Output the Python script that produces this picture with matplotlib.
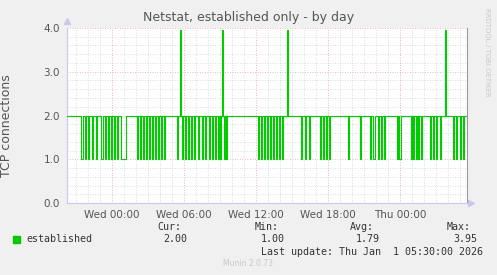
import numpy as np
import matplotlib
matplotlib.use("Agg")
import matplotlib.pyplot as plt

# samples every 5 minutes, time in minutes relative to Wed 00:00
t_start = -225
t_end = 1775
step = 5
base_value = 2.0

# dips to 1.0: (start minute, number of samples)
dips = [(-155, 2), (-135, 1), (-120, 1), (-100, 1), (-80, 1), (-55, 2), (-35, 1),
        (-20, 1), (-5, 1), (10, 1), (25, 1), (45, 5),
        (125, 1), (140, 1), (155, 1), (170, 1), (185, 1), (200, 1), (215, 1),
        (230, 1), (245, 1), (260, 1),
        (325, 1), (350, 1), (365, 1), (380, 1), (395, 1), (410, 1), (430, 1),
        (450, 1), (465, 1), (485, 1), (500, 1), (515, 1), (530, 1), (540, 1),
        (560, 1), (570, 1),
        (730, 1), (745, 1), (760, 1), (775, 1), (790, 1), (805, 1), (820, 1),
        (835, 1), (850, 1),
        (945, 1), (965, 1), (985, 1), (1040, 1), (1055, 1), (1070, 1), (1085, 1),
        (1180, 1), (1240, 1),
        (1290, 1), (1305, 2), (1330, 1), (1345, 1), (1360, 1), (1425, 1),
        (1435, 2), (1495, 1), (1505, 1), (1520, 1), (1530, 1),
        (1545, 1), (1590, 1), (1605, 1), (1620, 1), (1640, 1), (1705, 1),
        (1720, 1), (1740, 1), (1755, 1)]
dip_value = 1.0

# spikes to the max
spikes = [340, 550, 875, 1665]
spike_value = 3.95

tick_pos = [0, 360, 720, 1080, 1440]
tick_labels = ["Wed 00:00", "Wed 06:00", "Wed 12:00", "Wed 18:00", "Thu 00:00"]

legend_name = "established"
cur, vmin, avg, vmax = "2.00", "1.00", "1.79", "3.95"
last_update = "Last update: Thu Jan  1 05:30:00 2026"

# build the series
t = np.arange(t_start, t_end, step)
vals = np.full(len(t), base_value)
for start, n in dips:
    i = (start - t_start) // step
    vals[i:i + n] = dip_value
for s in spikes:
    vals[(s - t_start) // step] = spike_value

W, H = 497, 275
fig = plt.figure(figsize=(W / 100, H / 100), dpi=100, facecolor="#F0F0F0")
ax = fig.add_axes([67 / W, 1 - 203 / H, 400 / W, 175 / H])
ax.set_facecolor("white")

# grid
for y in np.arange(0.2, 4.01, 0.2):
    major = abs(y - round(y)) < 1e-6
    ax.axhline(y, color="#E6A0A0" if major else "#D0D0D0", lw=0.6,
               ls=(0, (1, 2)), zorder=1)
for x in range(-180, t_end, 60):
    major = x % 360 == 0
    ax.axvline(x, color="#E6A0A0" if major else "#D0D0D0", lw=0.6,
               ls=(0, (1, 2)), zorder=1)

ax.plot(t, vals, drawstyle="steps-post", color="#00CC00", lw=0.8, zorder=3)

ax.set_xlim(t_start, t_end)
ax.set_ylim(0, 4.0)
ax.set_yticks([0, 1, 2, 3, 4])
ax.set_yticklabels(["0.0", "1.0", "2.0", "3.0", "4.0"])
ax.set_xticks(tick_pos)
ax.set_xticklabels(tick_labels)
ax.tick_params(length=0, labelsize=7.5, colors="#555555", pad=5)

ax.spines["top"].set_visible(False)
ax.spines["right"].set_color("#999999")
ax.spines["left"].set_color("#C8C8F0")
ax.spines["bottom"].set_color("#C8C8F0")
# axis arrows
ax.plot(0, 1.04, marker="^", color="#C8C8F0", ms=5, transform=ax.transAxes,
        clip_on=False)
ax.plot(1.01, 0, marker=">", color="#C8C8F0", ms=5, transform=ax.transAxes,
        clip_on=False)

ax.set_ylabel("TCP connections", fontsize=9, color="#555555")
ax.yaxis.set_label_coords(-0.135, 0.44)

fig.text(249 / W, 1 - 17 / H, "Netstat, established only - by day",
         ha="center", va="center", fontsize=9, color="#555555")
fig.text(487 / W, 1 - 52 / H, "RRDTOOL / TOBI OETIKER", rotation=270,
         ha="center", va="center", fontsize=5, color="#C8C8C8")

mono = dict(family="DejaVu Sans Mono", fontsize=7.2, color="#333333", va="center")
fig.patches.append(plt.Rectangle((13 / W, 1 - 243 / H), 7 / W, 7 / H,
                                 transform=fig.transFigure, color="#00CC00"))
fig.text(26 / W, 1 - 239.5 / H, legend_name, **mono)
cols = [("Cur:", cur, 181), ("Min:", vmin, 279), ("Avg:", avg, 374), ("Max:", vmax, 471)]
for head, val, xr in cols:
    fig.text(xr / W, 1 - 226.5 / H, head, ha="right", **mono)
    fig.text((xr + 6) / W, 1 - 239.5 / H, val, ha="right", **mono)
fig.text(483 / W, 1 - 252 / H, last_update, ha="right", **mono)
fig.text(248 / W, 1 - 264 / H, "Munin 2.0.73", ha="center", va="center",
         fontsize=5.5, color="#C8C8C8")

fig.savefig("out.png", dpi=100, facecolor=fig.get_facecolor())
